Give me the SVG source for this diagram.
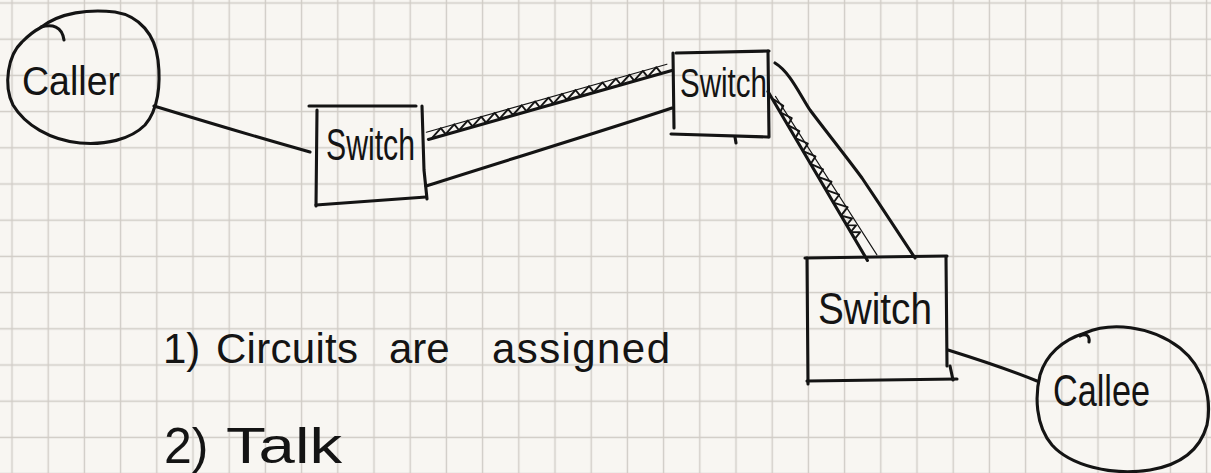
<svg xmlns="http://www.w3.org/2000/svg" width="1211" height="473" viewBox="0 0 1211 473">
  <defs>
    <!-- squared notebook paper -->
    <pattern id="grid" x="-6.1" y="-15.1" width="36.2" height="36.2" patternUnits="userSpaceOnUse">
      <path d="M18.1,0 V36.2 M0,18.1 H36.2" stroke="#d0ccc6" stroke-width="1.4" fill="none"/>
    </pattern>
    <style>
      .ink { fill: none; stroke: #141414; stroke-width: 3.1; stroke-linecap: round; stroke-linejoin: round; }
      .thin { fill: none; stroke: #141414; stroke-width: 1.1; stroke-linecap: round; }
      .hatch { fill: none; stroke: #141414; stroke-width: 1.9; stroke-linecap: round; stroke-linejoin: round; }
      .label { font-family: "Liberation Sans", "DejaVu Sans", sans-serif; fill: #141414; }
    </style>
  </defs>

  <rect width="1211" height="473" fill="#f8f6f2"/>
  <rect width="1211" height="473" fill="url(#grid)"/>

  <!-- caller endpoint -->
  <g id="caller">
    <path class="ink" d="M40,28 C60,12 90,9 115,12 C140,16 155,35 158,60 C161,85 158,110 145,125 C130,140 105,145 80,143 C50,140 25,125 13,105 C3,85 8,55 22,42 C30,34 36,30 40,28"/>
    <path class="ink" stroke-width="1.6" d="M41,27 C52,24 62,26 64,40"/>
    <text class="label" x="22" y="95" font-size="41" textLength="98" lengthAdjust="spacingAndGlyphs">Caller</text>
  </g>

  <!-- first exchange -->
  <g id="switch1">
    <path class="ink" d="M309,106 L416,106"/>
    <path class="ink" d="M317,110 L316,206"/>
    <path class="ink" d="M316,205 L426,197"/>
    <path class="ink" d="M422,106 L424,170 L427,199"/>
    <text class="label" x="326" y="160" font-size="44" textLength="89" lengthAdjust="spacingAndGlyphs">Switch</text>
  </g>

  <!-- second exchange -->
  <g id="switch2">
    <path class="ink" d="M676,53 L769,51"/>
    <path class="ink" d="M673,53 L674,128"/>
    <path class="ink" d="M671,134 L768,137"/>
    <path class="ink" d="M768,51 L769,137"/>
    <path class="ink" stroke-width="1.4" d="M735,137 L736,143"/>
    <text class="label" x="680" y="97" font-size="41" textLength="87" lengthAdjust="spacingAndGlyphs">Switch</text>
  </g>

  <!-- third exchange -->
  <g id="switch3">
    <path class="ink" d="M805,258 L947,256"/>
    <path class="ink" d="M807,258 L808,384"/>
    <path class="ink" d="M807,381 L957,379"/>
    <path class="ink" d="M946,257 L947,366"/>
    <path class="ink" d="M950,366 L953,380"/>
    <text class="label" x="818" y="324" font-size="45" textLength="114" lengthAdjust="spacingAndGlyphs">Switch</text>
  </g>

  <!-- callee endpoint -->
  <g id="callee">
    <path class="ink" d="M1085,333 C1110,322 1150,325 1180,348 C1205,368 1212,400 1207,425 C1200,450 1180,465 1150,470 C1110,476 1070,465 1052,445 C1035,425 1035,395 1040,375 C1046,355 1062,340 1085,333"/>
    <path class="ink" stroke-width="1.6" d="M1080,336 C1085,333 1090,335 1089,342"/>
    <text class="label" x="1053" y="406" font-size="45" textLength="97" lengthAdjust="spacingAndGlyphs">Callee</text>
  </g>

  <!-- trunks and access lines -->
  <g id="connectors">
    <path class="ink" d="M154,106 C200,120 260,138 310,152"/>

    <!-- reserved circuit, switch1 to switch2 -->
    <g transform="translate(428,138) rotate(-15.8)">
      <path class="thin" d="M0,-6 L250,-6"/>
      <path class="ink" d="M0,1.5 L253,1.5"/>
      <path class="hatch" d="M4,1 l11,-7 3,7 11,-7 3,7 11,-7 3,7 11,-7 3,7 11,-7 3,7 11,-7 3,7 11,-7 3,7 11,-7 3,7 11,-7 3,7 11,-7 3,7 11,-7 3,7 11,-7 3,7 11,-7 3,7 11,-7 3,7 11,-7 3,7 11,-7 3,7 11,-7 3,7"/>
    </g>
    <path class="ink" d="M426,186 C520,156 600,132 672,108"/>

    <!-- reserved circuit, switch2 to switch3 -->
    <g transform="translate(770,95) rotate(59.5)">
      <path class="ink" d="M-4,0 L192,0"/>
      <path class="thin" stroke-width="1.8" d="M4,-4 L192,-11"/>
      <path class="hatch" d="M6,-1 l10,-5 4,6 11,-7 4,7 11,-7 4,7 11,-8 4,8 11,-8 4,8 11,-8 4,8 11,-9 4,9 11,-9 4,9 11,-10 4,10 8,-8 3,8 5,-8 3,8 5,-8 3,8"/>
    </g>
    <path class="ink" d="M775,63 C790,72 800,95 810,110 C825,130 845,155 862,178 C880,205 900,235 915,258"/>

    <path class="ink" d="M948,350 C980,360 1010,370 1037,381"/>
  </g>

  <!-- notes -->
  <g id="notes">
    <text class="label" y="363" font-size="42"><tspan x="163">1)</tspan><tspan x="216" textLength="142" lengthAdjust="spacing">Circuits</tspan><tspan x="389">are</tspan><tspan x="492" textLength="178" lengthAdjust="spacing">assigned</tspan></text>
    <text class="label" y="463" font-size="50"><tspan x="164">2)</tspan><tspan x="226" textLength="116" lengthAdjust="spacingAndGlyphs">Talk</tspan></text>
  </g>
</svg>
